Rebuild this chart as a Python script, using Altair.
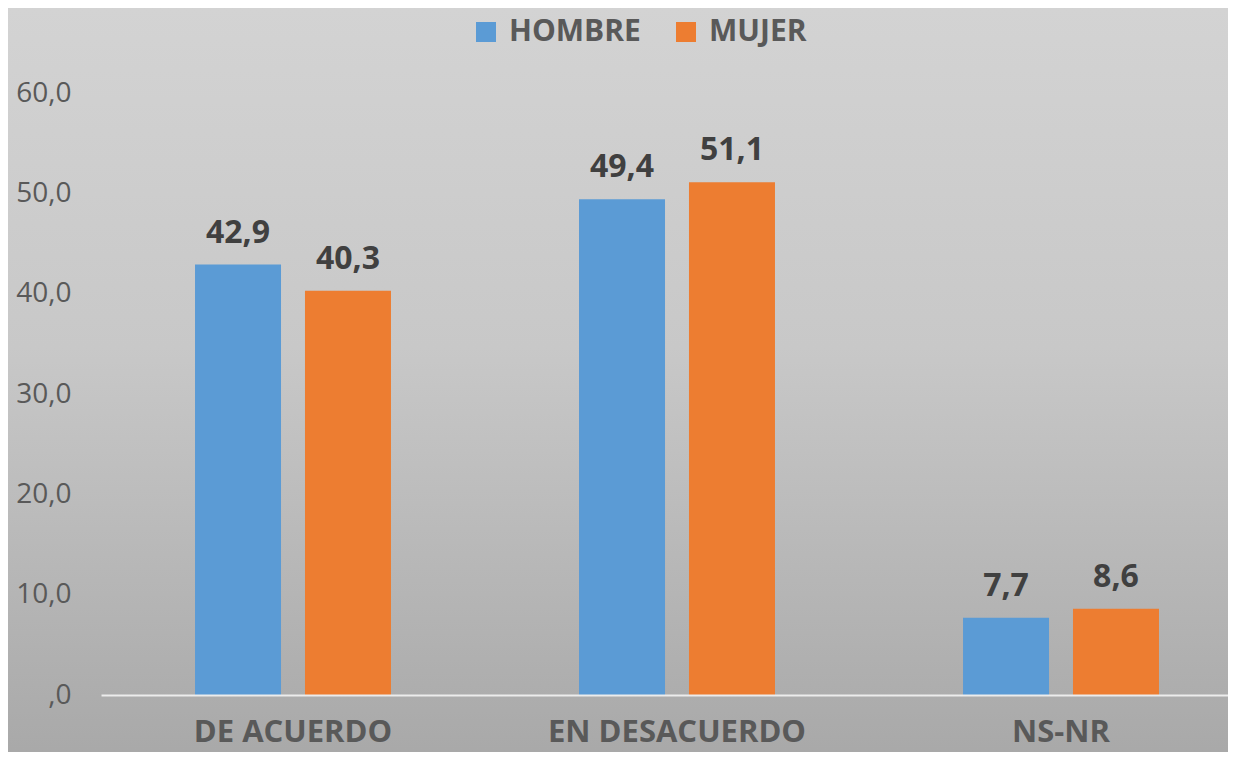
import altair as alt
import pandas as pd

categories = ["DE ACUERDO", "EN DESACUERDO", "NS-NR"]
series = ["HOMBRE", "MUJER"]
hombre = [42.9, 49.4, 7.7]
mujer = [40.3, 51.1, 8.6]
colors = ["#5B9BD5", "#ED7D31"]
y_ticks = [0, 10, 20, 30, 40, 50, 60]

rows = []
for c, h, m in zip(categories, hombre, mujer):
    rows.append({"cat": c, "sexo": "HOMBRE", "val": h})
    rows.append({"cat": c, "sexo": "MUJER", "val": m})
df = pd.DataFrame(rows)

W, H = 1127, 602
PL, PT, PR, PB = 93, 85, 0, 57
FONT = "Open Sans"

bg = alt.Chart(alt.Data(values=[{}])).mark_rect(
    color=alt.Gradient(
        gradient="linear",
        stops=[
            alt.GradientStop(color="#d3d3d3", offset=0),
            alt.GradientStop(color="#c8c8c8", offset=0.45),
            alt.GradientStop(color="#a8a8a8", offset=1),
        ],
        x1=0, x2=0, y1=0, y2=1,
    )
).encode(
    x=alt.value(-PL), x2=alt.value(W + PR + 20),
    y=alt.value(-PT), y2=alt.value(H + PB + 10),
)

x_enc = alt.X("cat:N", sort=categories, title=None,
              scale=alt.Scale(range=[0, 1152], paddingInner=0, paddingOuter=0),
              axis=alt.Axis(labelAngle=0, ticks=False, domain=True, domainColor="#ececec",
                            domainWidth=2, labelFont=FONT, labelFontSize=31,
                            labelFontWeight="bold", labelColor="#595959",
                            labelPadding=22, labelLimit=0, grid=False, zindex=2))
y_enc = alt.Y("val:Q", title=None,
              scale=alt.Scale(domain=[0, 60], nice=False),
              axis=alt.Axis(values=y_ticks, domain=False, ticks=False, grid=False,
                            labelFont=FONT, labelFontSize=28, labelColor="#595959",
                            labelPadding=30, zindex=2,
                            labelExpr="datum.value == 0 ? ',0' : replace(format(datum.value, '.1f'), '.', ',')"))
xo = alt.XOffset("sexo:N", sort=series,
                 scale=alt.Scale(paddingInner=0.218, paddingOuter=0.855))

base = alt.Chart(df).encode(x=x_enc, xOffset=xo)

bars = base.mark_bar().encode(
    y=y_enc,
    color=alt.Color("sexo:N", sort=series, title=None,
                    scale=alt.Scale(domain=series, range=colors),
                    legend=alt.Legend(orient="none", legendX=370, legendY=-76,
                                      direction="horizontal", symbolType="square",
                                      symbolSize=400, symbolStrokeWidth=0,
                                      labelFont=FONT, labelFontSize=30,
                                      labelFontWeight="bold", labelColor="#595959",
                                      columnPadding=30, labelOffset=8,
                                      labelLimit=0)),
)

labels = base.transform_calculate(
    txt="replace(format(datum.val, '.1f'), '.', ',')"
).mark_text(font=FONT, fontSize=32, fontWeight="bold", color="#404040",
            baseline="alphabetic", dy=-22).encode(
    y="val:Q", text="txt:N")

chart = alt.layer(bg, bars, labels).properties(
    width=W, height=H,
    autosize=alt.AutoSizeParams(type="none"),
    padding={"left": PL, "top": PT, "right": PR, "bottom": PB},
    background="#bdbdbd",
).configure_view(stroke=None)

chart.save("out.html", embed_options={"renderer": "svg", "actions": False})
